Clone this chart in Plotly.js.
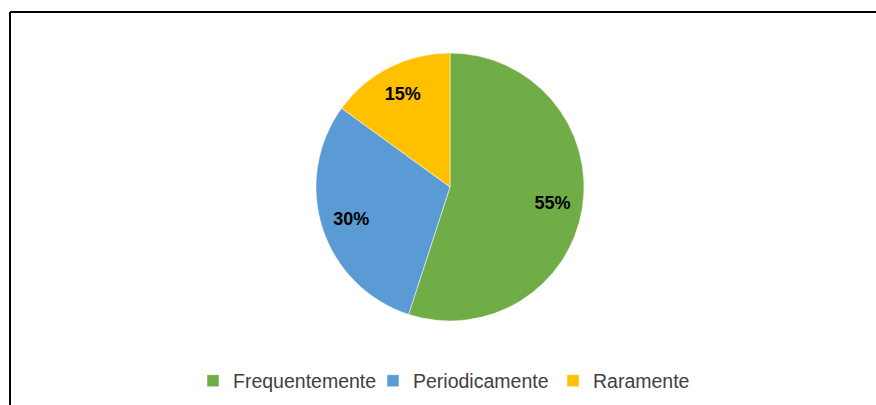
<!DOCTYPE html>
<html>
<head>
<meta charset="utf-8">
<script src="https://cdn.plot.ly/plotly-3.0.1.min.js"></script>
<style>html,body{margin:0;padding:0;background:#fff;}#chart{width:876px;height:405px;}</style>
</head>
<body>
<div id="chart"></div>
<script>
const categories = ["Frequentemente", "Periodicamente", "Raramente"];
const values = [55, 30, 15];
const colors = ["#70AD47", "#5B9BD5", "#FFC000"];

const W = 876, H = 405;
const cx = 450, cy = 187, r = 134;
const dom = {x: [(cx - 300) / W, (cx + 300) / W], y: [(H - cy - r) / H, (H - cy + r) / H]};
const labelFont = {family: "Liberation Sans, Arial, sans-serif", size: 18, color: "#000000", weight: "bold"};

const pieTrace = {
  type: "pie",
  labels: categories,
  values: values,
  sort: false,
  direction: "clockwise",
  rotation: 0,
  marker: {colors: colors, line: {color: "#ffffff", width: 0.5}},
  textinfo: "none",
  domain: dom,
  hoverinfo: "label+percent"
};

// transparent ring overlay to place the percentage labels toward the rim
const labelTrace = {
  type: "pie",
  labels: categories,
  values: values,
  sort: false,
  direction: "clockwise",
  rotation: 0,
  hole: 0.55,
  showlegend: false,
  marker: {colors: ["rgba(0,0,0,0)", "rgba(0,0,0,0)", "rgba(0,0,0,0)"], line: {width: 0}},
  texttemplate: "%{percent:.0%}",
  textposition: "inside",
  insidetextorientation: "horizontal",
  insidetextfont: labelFont,
  domain: dom,
  hoverinfo: "skip"
};

const layout = {
  width: W, height: H,
  margin: {l: 0, r: 0, t: 0, b: 0},
  paper_bgcolor: "#ffffff",
  showlegend: true,
  legend: {
    orientation: "h", x: 193 / W, xanchor: "left", y: 1 - 381 / H, yanchor: "middle",
    entrywidth: 135, entrywidthmode: "pixels",
    font: {family: "Liberation Sans, Arial, sans-serif", size: 19.5, color: "#404040"},
    traceorder: "normal"
  },
  shapes: [
    {type: "line", xref: "paper", yref: "paper", x0: 10 / W, x1: 1.01, y0: 1 - 12 / H, y1: 1 - 12 / H, line: {color: "#000", width: 2}},
    {type: "line", xref: "paper", yref: "paper", x0: 10 / W, x1: 10 / W, y0: 1 - 12 / H, y1: -0.01, line: {color: "#000", width: 2}}
  ]
};

Plotly.newPlot("chart", [pieTrace, labelTrace], layout, {displayModeBar: false, staticPlot: true});
</script>
</body>
</html>
